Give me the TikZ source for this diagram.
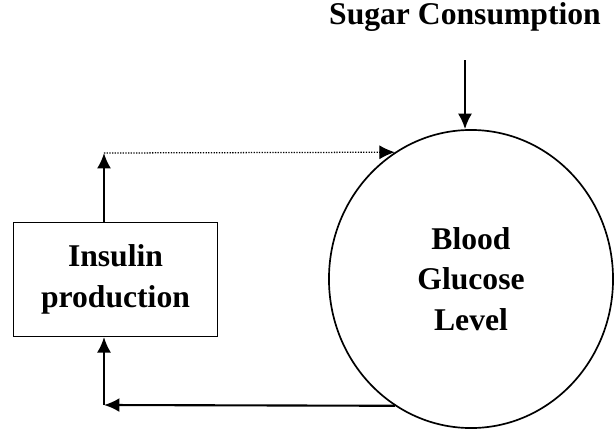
\documentclass[tikz,border=0pt]{standalone}
\usepackage{fontspec}
\setmainfont{Liberation Serif}
\usetikzlibrary{arrows.meta}
\usetikzlibrary{positioning}
\usetikzlibrary{shapes.geometric}

\begin{document}
\begin{tikzpicture}[x=0.025cm, y=-0.025cm,
    label/.style={font=\fontsize{22.5}{29}\selectfont\bfseries, align=center},
    flow/.style={line width=1.5pt, -{Latex[length=11pt,width=10pt]}}]
  \useasboundingbox (0,0) rectangle (614,429);

  \node[label, draw, ellipse, line width=1.2pt, inner sep=0pt,
        minimum width=7.1cm, minimum height=7.45cm] (glucose) at (471,279)
        {Blood\\Glucose\\Level};
  \node[label, draw, line width=0.8pt, inner sep=0pt,
        minimum width=5.1cm, minimum height=2.85cm] (insulin) at (115.5,279.5)
        {Insulin\\production};
  \node[label] (sugar) at (465,17) {Sugar Consumption};

  \coordinate (sugarin) at (465,60);
  \coordinate (up)   at (104,153);
  \coordinate (down) at (104,405);

  \draw[flow] (sugarin) -- (glucose.north -| sugarin);
  \draw[flow] (insulin.north -| up) -- (up);
  \draw[flow, line width=0.9pt, densely dotted] (up) -- (glucose.121);
  \draw[flow] (glucose.239) -- (down);
  \draw[flow] (down) -- (insulin.south -| down);
\end{tikzpicture}
\end{document}
